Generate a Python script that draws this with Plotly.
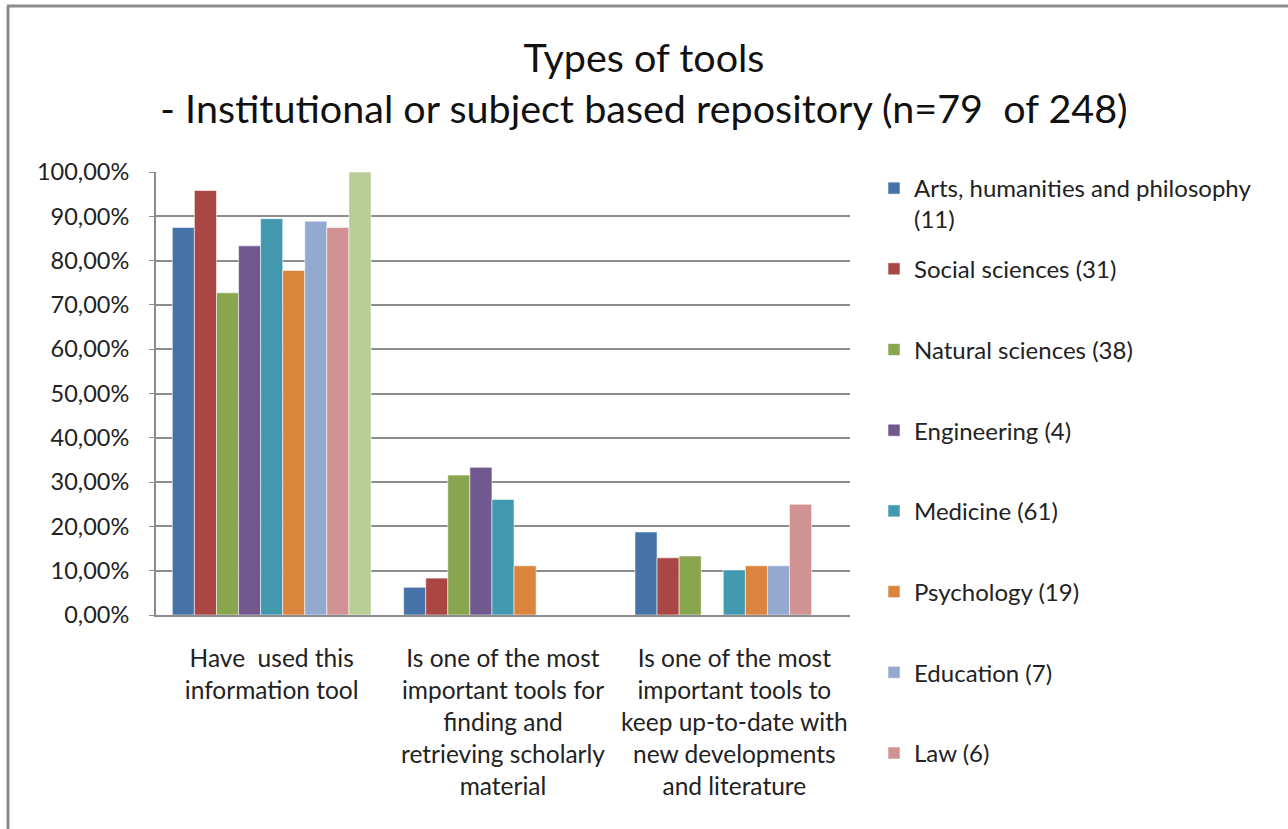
import plotly.graph_objects as go

categories = [
    "Have  used this<br>information tool",
    "Is one of the most<br>important tools for<br>finding and<br>retrieving scholarly<br>material",
    "Is one of the most<br>important tools to<br>keep up-to-date with<br>new developments<br>and literature",
]

series_names = [
    "Arts, humanities and philosophy",
    "Social sciences (31)",
    "Natural sciences (38)",
    "Engineering (4)",
    "Medicine (61)",
    "Psychology (19)",
    "Education (7)",
    "Law (6)",
    "Other",
]
arts_name_second_line = "(11)"
series_in_legend = [True, True, True, True, True, True, True, True, False]

arts = [0.875, 0.0625, 0.1875]
social = [0.9583, 0.0833, 0.129]
natural = [0.7273, 0.3158, 0.1333]
engineering = [0.8333, 0.3333, 0.0]
medicine = [0.8947, 0.2609, 0.1017]
psychology = [0.7778, 0.1111, 0.1111]
education = [0.8889, 0.0, 0.1111]
law = [0.875, 0.0, 0.25]
other = [1.0, 0.0, 0.0]

series_values = [arts, social, natural, engineering, medicine, psychology, education, law, other]

colors = ["#4572A7", "#AA4643", "#89A54E", "#71588F", "#4198AF",
          "#DB843D", "#93A9CF", "#D19392", "#B9CD96"]

W, H = 1288, 829
L, R, T, B = 156, 438, 172, 214
pw, ph = W - L - R, H - T - B

FONT = "Lato, 'Open Sans', sans-serif"
TXT = "#222222"

fig = go.Figure()
for i, (name, vals) in enumerate(zip(series_names, series_values)):
    fig.add_trace(go.Bar(
        x=categories, y=vals, name=name,
        marker=dict(color=colors[i], line=dict(color="rgba(255,255,255,0.55)", width=1)),
        showlegend=series_in_legend[i],
        legendgroup=f"g{i}",
    ))

def px_x(x):
    return (x - L) / pw

def px_y(y):
    return 1 - (y - T) / ph

fig.update_layout(
    width=W, height=H,
    margin=dict(l=L, r=R, t=T, b=B, autoexpand=False),
    paper_bgcolor="white", plot_bgcolor="white",
    separators=",.",
    barmode="group", bargap=0.141, bargroupgap=0,
    font=dict(family=FONT, size=24, color=TXT),
    title=dict(
        text="Types of tools<br>- Institutional or subject based repository (n=79  of 248)",
        x=0.5, xref="container", xanchor="center",
        y=1 - 72 / H, yref="container", yanchor="middle",
        font=dict(family=FONT, size=39.5, color="#111111"),
    ),
    legend=dict(
        x=px_x(874), xref="paper", y=1 - 166 / H, yref="container",
        xanchor="left", yanchor="top", maxheight=1,
        font=dict(family=FONT, size=24, color=TXT),
        tracegroupgap=46.5, itemwidth=30, bgcolor="rgba(0,0,0,0)",
    ),
    xaxis=dict(
        showline=True, linecolor="#8c8c8c", linewidth=2,
        ticks="", tickfont=dict(size=24.5, color=TXT),
        ticklabelstandoff=21,
        showgrid=False,
    ),
    yaxis=dict(
        range=[0, 1], dtick=0.1, tickformat=".2%",
        showline=True, linecolor="#8c8c8c", linewidth=2,
        showgrid=True, gridcolor="#8c8c8c", gridwidth=1.5,
        ticks="outside", ticklen=5, tickcolor="#8c8c8c",
        tickfont=dict(size=23.5, color=TXT),
        ticklabelstandoff=15,
        zeroline=False,
    ),
    shapes=[
        dict(type="line", xref="paper", yref="paper",
             x0=px_x(8), x1=px_x(8), y0=px_y(6), y1=px_y(H + 5),
             line=dict(color="#8c8c8c", width=3)),
        dict(type="line", xref="paper", yref="paper",
             x0=px_x(7), x1=px_x(W + 5), y0=px_y(6), y1=px_y(6),
             line=dict(color="#8c8c8c", width=3)),
    ],
    annotations=[
        dict(text=arts_name_second_line, xref="paper", yref="paper",
             x=px_x(912), y=px_y(218), xanchor="left", yanchor="middle",
             showarrow=False, font=dict(family=FONT, size=24, color=TXT)),
    ],
)

fig.write_html("out.html", include_plotlyjs=True,
               config={"displayModeBar": False},
               post_script="document.body.style.margin='0';")
